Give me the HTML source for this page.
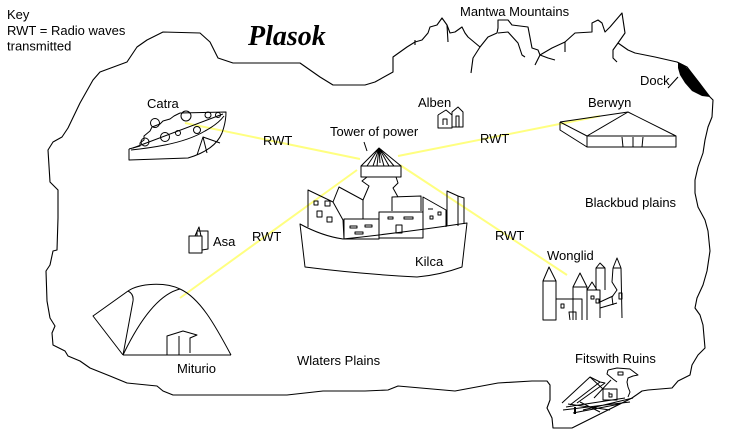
<!DOCTYPE html>
<html>
<head>
<meta charset="utf-8">
<style>
html,body{margin:0;padding:0;background:#fff;}
svg{display:block;}
text{font-family:"Liberation Sans",Arial,sans-serif;font-size:13px;fill:#000;}
</style>
</head>
<body>
<svg width="730" height="437" viewBox="0 0 730 437" xmlns="http://www.w3.org/2000/svg">
<rect width="730" height="437" fill="#fff"/>
<g fill="none" stroke="#000" stroke-width="1.1" stroke-linejoin="round">
<!-- coastline -->
<path d="M58,218 L58,190 L50,182 L48,150 L53,142 L62,137 L68,128 L80,103 L93,80 L100,72 L127,62 L137,47 L147,40 L163,32 L200,33 L210,42 L218,58 L233,63 L300,63 L320,77 L333,85 L365,85 L375,82 L393,72 L393,57 L400,52 L407,47 L415,42 L422,40 L428,33 L430,27 L437,25 L442,18 L447,25 L450,33 L455,32 L462,27 L465,33 L468,37 L480,47 L488,37 L497,33 L498,28 L498,20 L508,20 L512,25 L528,27 L532,48 L538,50 L540,55 L552,48 L565,42 L575,33 L592,32 L592,23 L598,20 L602,23 L605,32 L610,27 L622,13 L625,33 L618,43 L628,50 L635,53 L655,57 L677,62 L687,67 L697,80 L710,97 L713,100 L712,117 L708,127 L705,140 L703,153 L698,167 L695,180 L695,193 L698,207 L705,220 L708,231 L710,251 L707,271 L703,285 L697,298 L695,308 L700,315 L703,325 L705,348 L698,355 L692,365 L690,375 L678,381 L672,388 L648,390 L642,391 L632,398 L612,408 L592,418 L582,423 L572,428 L553,428 L552,418 L547,408 L550,400 L550,385 L547,381 L532,381 L498,383 L455,391 L398,386 L388,390 L365,391 L323,391 L287,395 L173,395 L163,391 L157,386 L127,383 L110,376 L90,368 L80,361 L68,356 L65,351 L53,345 L52,333 L55,326 L50,318 L47,301 L46,271 L50,265 L53,251 L57,250 L58,218 Z"/>
<!-- mountain spurs -->
<path d="M447,25 L448,42"/>
<path d="M415,40 L415,45"/>
<path d="M480,47 L473,58 L471,73"/>
<path d="M498,33 L508,32 L518,43 L522,55 L525,57"/>
<path d="M540,55 L535,65"/>
<path d="M540,55 L548,58 L555,60"/>
<path d="M565,42 L565,52"/>
<path d="M618,43 L613,50 L613,58 L617,62"/>
<!-- dock -->
<path d="M668,88 L678,77"/>
</g>
<path d="M678,62 L684,65 L692,73 L700,83 L710,97 L702,96 L692,91 L685,83 L680,75 L678,68 Z" fill="#000"/>

<!-- yellow lines -->
<g stroke="#ffff80" stroke-width="2" fill="none">
<line x1="185" y1="123" x2="360" y2="159"/>
<line x1="398" y1="156" x2="600" y2="116"/>
<line x1="180" y1="298" x2="357" y2="170"/>
<line x1="400" y1="165" x2="567" y2="275"/>
</g>

<g fill="none" stroke="#000" stroke-width="1" stroke-linejoin="round">
<!-- Catra -->
<path d="M129,149 L129,160 L188,158 Q215,150 222,133 Q226,122 226,112 L180,113"/>
<path d="M129,149 L140,146 L140,143 L144,140 L144,136 L150,131 L152,127 L160,124 L163,121 L170,119 L174,116 L180,113"/>
<path d="M133,148 L223,114"/>
<path d="M131,150 Q150,148 165,145 Q190,140 205,131 Q218,124 224,116"/>
<path d="M197,155 L203,137 L220,143 M203,137 L207,153"/>
<circle cx="155" cy="123" r="4.5"/>
<circle cx="145" cy="142" r="4"/>
<circle cx="165" cy="137" r="4.5"/>
<circle cx="186" cy="116" r="5"/>
<circle cx="197" cy="130" r="3.5"/>
<circle cx="208" cy="115" r="3"/>
<circle cx="218" cy="115" r="2.5"/>
<circle cx="178" cy="133" r="2.5"/>

<!-- Alben -->
<path d="M438,115 L438,128 L452,128 L452,115 L446,110 L438,115"/>
<path d="M443,125 L443,119 L447,119 L447,125"/>
<path d="M452,112 L458,107 L463,112 L463,127 L452,127 Z"/>
<path d="M456,127 L456,116 L459,116 L459,127"/>

<!-- Berwyn -->
<rect x="587" y="136" width="89" height="11"/>
<path d="M587,136 L628,112 L676,136"/>
<path d="M560,122 L628,112"/>
<path d="M560,122 L587,136 M560,122 L560,130 L587,147"/>
<path d="M622,137 L623,147 M633,137 L633,147 M643,137 L642,147"/>

<!-- Tower of power -->
<path d="M364,142 L367,151"/>
<path d="M361,166 L379,148 L401,166"/>
<path d="M379,148 L367,166 M379,148 L373,166 M379,148 L377,166 M379,148 L380,163 M379,148 L384,166 M379,148 L389,166 M379,148 L394,166"/>
<rect x="361" y="166" width="40" height="11"/>
<path d="M367,177 L362,181 L369,186 L363,200"/>
<path d="M396,177 L398,183 L393,188 L398,197"/>

<!-- Kilca buildings -->
<path d="M308,227 L308,190 L333,202 L343,220 L344,239"/>
<rect x="314" y="201" width="4" height="4"/>
<rect x="325" y="201" width="5" height="5"/>
<rect x="317" y="211" width="5" height="6"/>
<rect x="327" y="217" width="5" height="5"/>
<path d="M333,202 L339,187 L363,200 L363,219"/>
<rect x="344" y="219" width="35" height="20"/>
<rect x="350" y="226" width="7" height="2"/>
<rect x="365" y="225" width="7" height="2"/>
<rect x="355" y="232" width="8" height="2"/>
<rect x="379" y="212" width="44" height="26"/>
<rect x="388" y="217" width="5" height="2"/>
<rect x="404" y="217" width="9" height="2"/>
<rect x="396" y="225" width="6" height="8"/>
<path d="M392,211 L392,197 L421,196 L421,211"/>
<path d="M423,230 L423,197 L446,210 L446,227"/>
<path d="M428,209 L433,209"/>
<rect x="430" y="216" width="3" height="3"/>
<rect x="438" y="212" width="3" height="3"/>
<path d="M447,226 L447,191 L458,196 L458,226 M458,196 L464,198 L464,224"/>
<!-- Kilca hull -->
<path d="M300,224 Q322,236 343,239 Q400,233 467,223 L462,267 Q440,275 417,277 Q360,274 305,267 Z"/>

<!-- Asa -->
<rect x="189" y="236" width="13" height="17"/>
<path d="M197,236 L197,231 L208,231 L208,249 L202,250"/>
<path d="M195,236 L199,227 L201,236"/>

<!-- Miturio -->
<path d="M123,355 L231,355"/>
<path d="M123,355 L93,316 L128,291"/>
<path d="M128,291 C140,283 165,282 180,289 C200,298 215,325 231,355"/>
<path d="M123,355 C135,330 155,295 180,289"/>
<path d="M123,355 L133,301 Q134,294 128,291"/>
<path d="M167,355 L167,336 L183,331 L197,335 L190,338 L190,353"/>
<path d="M179,336 L179,355"/>

<!-- Wonglid -->
<rect x="543" y="281" width="13" height="39"/>
<path d="M543,281 L549,267 L556,281"/>
<path d="M556,320 L556,299 L582,299 L582,320"/>
<rect x="561" y="304" width="3" height="4"/>
<path d="M570,320 L569,312 L576,312 L576,320"/>
<path d="M573,320 L573,287 L587,287 L587,320"/>
<path d="M573,287 L580,273 L587,287"/>
<path d="M587,318 L587,290 L600,290 L600,318"/>
<path d="M587,290 L592,282 L597,290"/>
<rect x="591" y="296" width="3" height="3"/>
<rect x="596" y="299" width="3" height="4"/>
<path d="M596,290 L596,268 L605,268 L605,290 M596,268 L600,263 L605,268"/>
<path d="M613,268 L617,258 L621,268 M613,268 L621,268 L622,318 M613,268 L612,282 L617,290 L612,297 L613,305"/>
<rect x="619" y="293" width="3" height="6"/>
<path d="M600,302 L613,296 M600,308 L617,303"/>

<!-- Fitswith Ruins -->
<path d="M608,370 L617,368 L630,369 L638,375 L633,376 L628,378 L627,382 L628,387 L630,392 L628,397"/>
<path d="M608,370 L607,374 L613,379 L617,382"/>
<rect x="618" y="372" width="5" height="3"/>
<rect x="603" y="389" width="14" height="11"/>
<path d="M609,392 L609,397 L612,397 L612,394 L609,394"/>
<path d="M562,403 L590,377 L600,382 L570,405"/>
<path d="M600,382 L605,383 L577,403"/>
<path d="M590,377 L603,389"/>
<path d="M611,380 L594,398"/>
<path d="M563,410 L630,402 M566,407 L625,398 M573,413 L620,404 M568,404 L610,410 M580,402 L600,412 M583,410 L633,398"/>
<path d="M575,407 L575,414" stroke-width="2"/>
</g>

<!-- Labels -->
<text x="7" y="19">Key</text>
<text x="7" y="35">RWT = Radio waves</text>
<text x="7" y="50.5">transmitted</text>
<text x="248" y="45" style="font-family:'Liberation Serif',serif;font-style:italic;font-weight:bold;font-size:28px;">Plasok</text>
<text x="460" y="16">Mantwa Mountains</text>
<text x="640" y="85">Dock</text>
<text x="147" y="108">Catra</text>
<text x="418" y="107">Alben</text>
<text x="588" y="107">Berwyn</text>
<text x="330" y="136">Tower of power</text>
<text x="263" y="145">RWT</text>
<text x="480" y="143">RWT</text>
<text x="585" y="207">Blackbud plains</text>
<text x="213" y="246">Asa</text>
<text x="252" y="241">RWT</text>
<text x="495" y="240">RWT</text>
<text x="547" y="260">Wonglid</text>
<text x="415" y="266">Kilca</text>
<text x="297" y="365">Wlaters Plains</text>
<text x="575" y="363">Fitswith Ruins</text>
<text x="177" y="373">Miturio</text>
</svg>
</body>
</html>
